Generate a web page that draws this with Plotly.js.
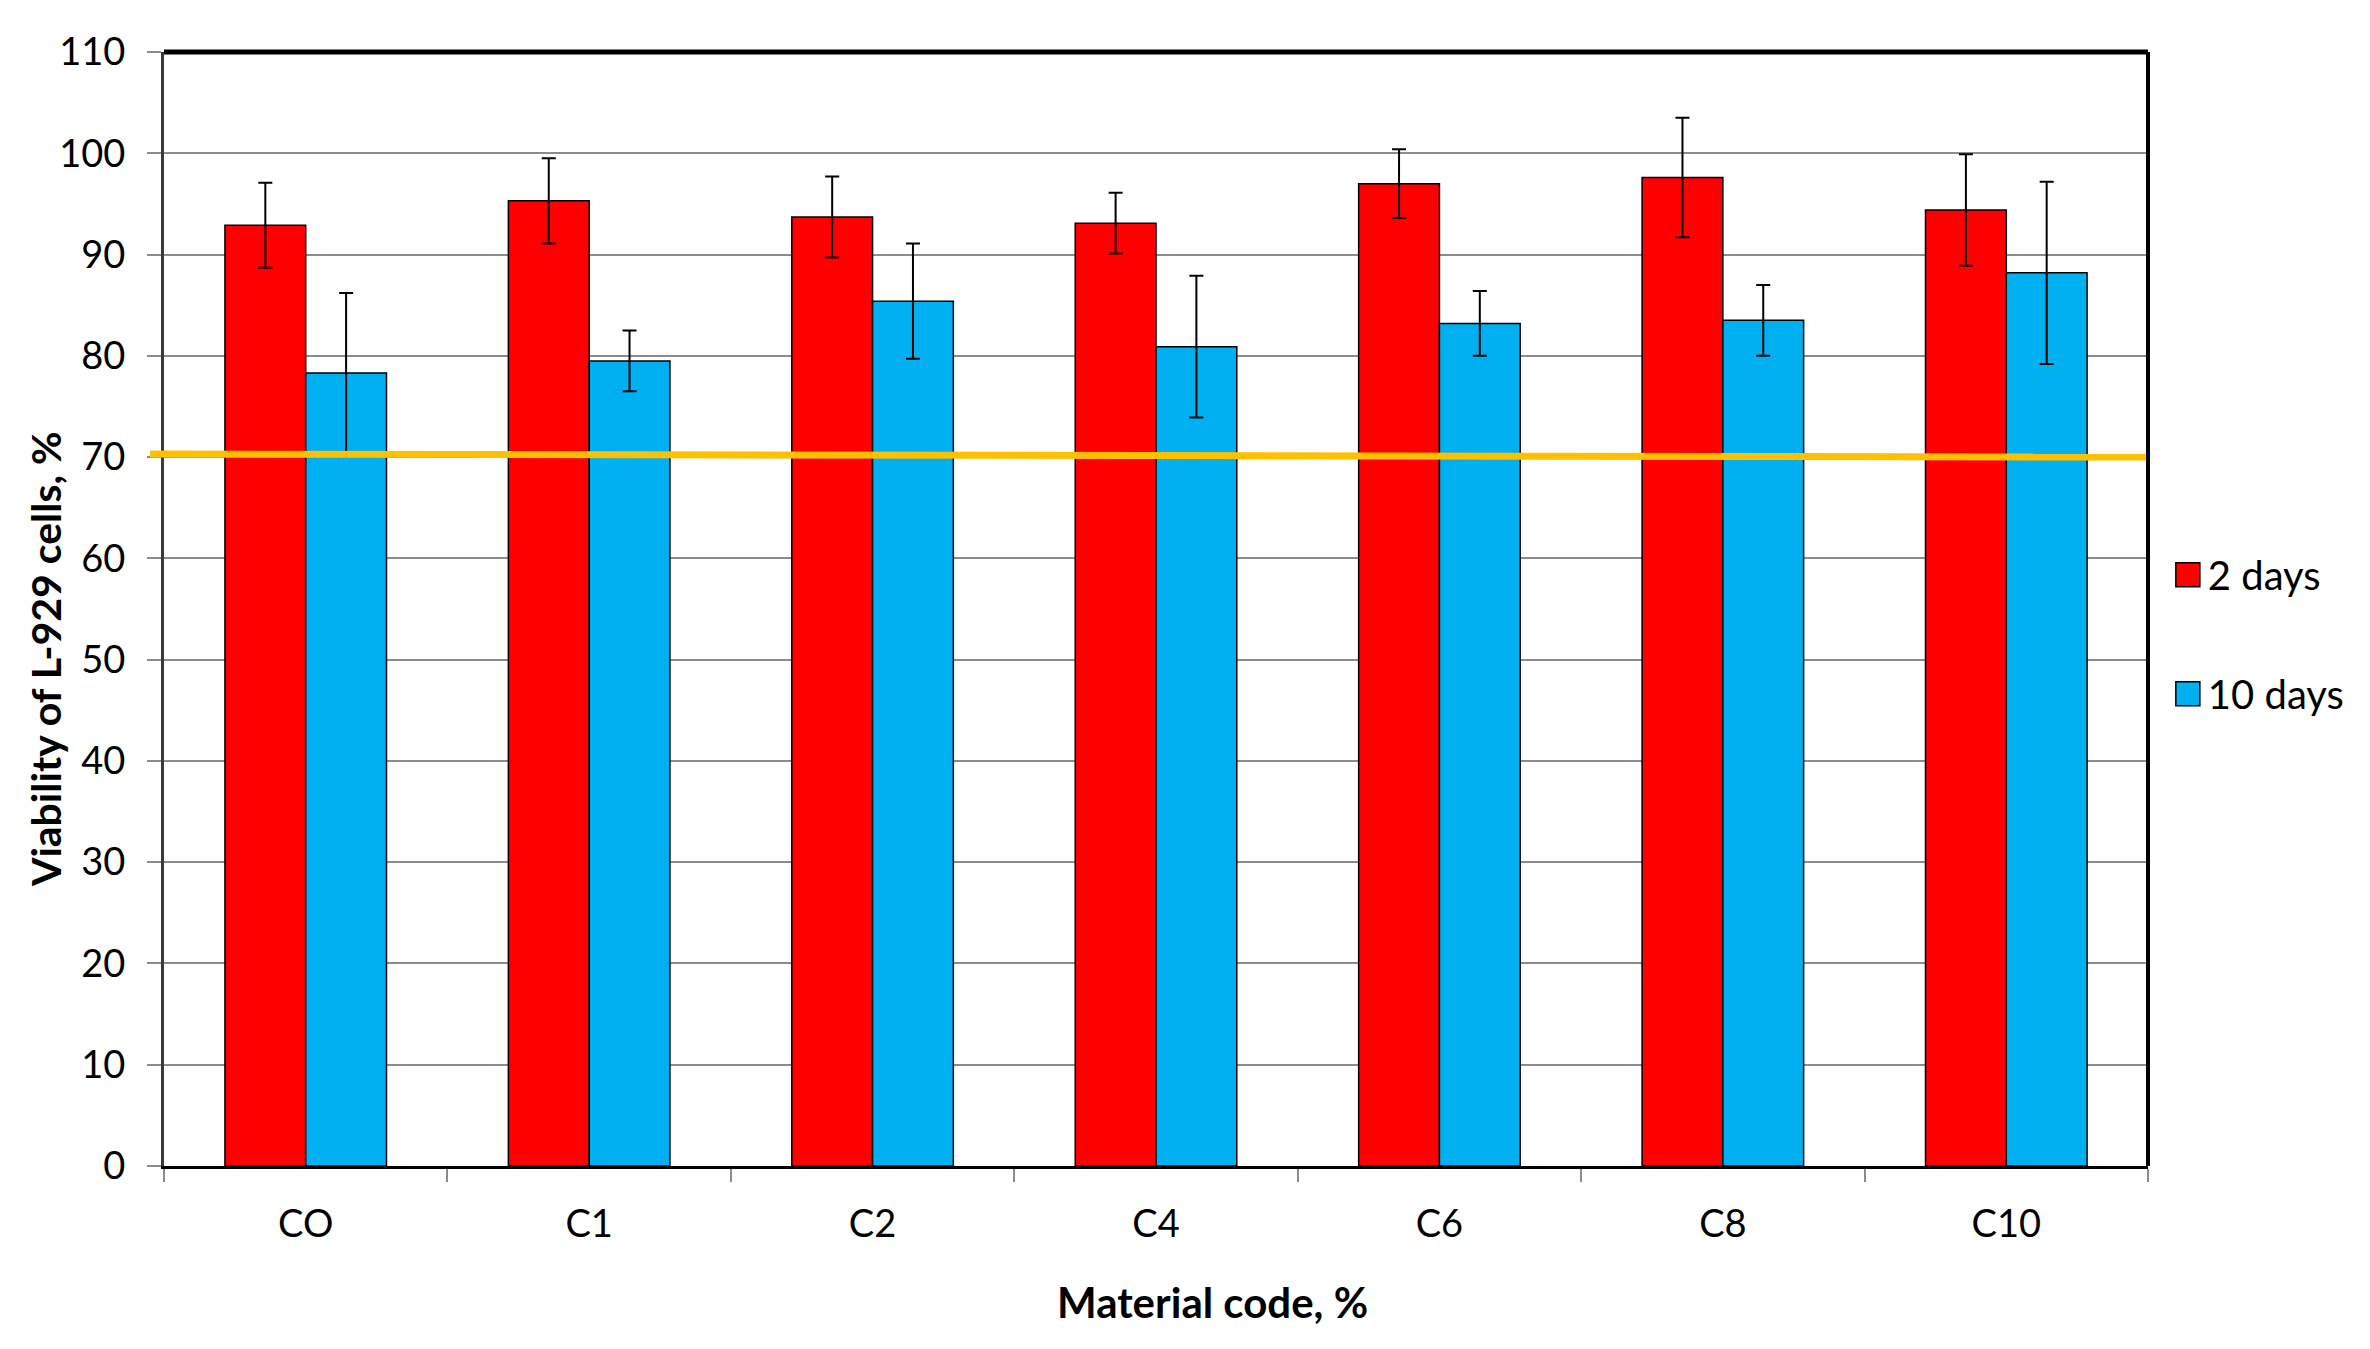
<!DOCTYPE html>
<html>
<head>
<meta charset="utf-8">
<script src="https://cdn.plot.ly/plotly-3.0.1.min.js"></script>
<style>
html,body{margin:0;padding:0;background:#fff;}
#chart{width:2370px;height:1349px;}
</style>
</head>
<body>
<div id="chart"></div>
<script>
const categories = ['CO', 'C1', 'C2', 'C4', 'C6', 'C8', 'C10'];
const days2 = [92.9, 95.3, 93.7, 93.1, 97.0, 97.6, 94.4];
const days2Err = [4.2, 4.2, 4.0, 3.0, 3.4, 5.9, 5.5];
const days10 = [78.3, 79.5, 85.4, 80.9, 83.2, 83.5, 88.2];
const days10Err = [7.9, 3.0, 5.7, 7.0, 3.2, 3.5, 9.0];
const threshold = [70.3, 70.0];
const seriesNames = ['2 days', '10 days'];
const yTickVals = [0, 10, 20, 30, 40, 50, 60, 70, 80, 90, 100, 110];
const xTitle = 'Material code, %';
const yTitle = 'Viability of L-929 cells, %';

const FONT = 'Lato, "Open Sans", sans-serif';

const traces = [
  {
    type: 'bar', name: seriesNames[0], x: categories, y: days2, legendgroup: 'a',
    marker: {color: '#FF0000', line: {color: '#000', width: 1.5}},
    error_y: {type: 'data', array: days2Err, visible: true, color: '#000', thickness: 2, width: 7}
  },
  {
    type: 'bar', name: seriesNames[1], x: categories, y: days10, legendgroup: 'b',
    marker: {color: '#00B0F0', line: {color: '#000', width: 1.5}},
    error_y: {type: 'data', array: days10Err, visible: true, color: '#000', thickness: 2, width: 7}
  }
];

const layout = {
  width: 2370, height: 1349,
  paper_bgcolor: '#fff', plot_bgcolor: '#fff',
  margin: {l: 164, r: 222, t: 52, b: 183, pad: 0},
  font: {family: FONT, size: 38, color: '#000'},
  barmode: 'group', bargap: 0.43, bargroupgap: 0,
  showlegend: true,
  legend: {
    x: 1.010, xanchor: 'left', y: 0.560, yanchor: 'top',
    font: {family: FONT, size: 40, color: '#000'},
    tracegroupgap: 64, bgcolor: 'rgba(0,0,0,0)', borderwidth: 0
  },
  xaxis: {
    type: 'category', range: [-0.5, 6.5], tickson: 'boundaries',
    ticks: 'outside', ticklen: 13, tickwidth: 2, tickcolor: '#8c8c8c',
    showline: true, linecolor: '#000', linewidth: 3,
    showgrid: false, zeroline: false,
    tickfont: {family: FONT, size: 38, color: '#000'},
    ticklabelstandoff: 22, fixedrange: true
  },
  yaxis: {
    range: [0, 110], tickvals: yTickVals,
    ticks: 'outside', ticklen: 14, tickwidth: 2, tickcolor: '#8c8c8c',
    showline: true, linecolor: '#3a3a3a', linewidth: 3,
    showgrid: true, gridcolor: '#8c8c8c', gridwidth: 2,
    zeroline: false,
    tickfont: {family: FONT, size: 38, color: '#000'},
    ticklabelstandoff: 14, fixedrange: true
  },
  shapes: [
    {type: 'line', xref: 'paper', yref: 'y', x0: -0.007, x1: 1, y0: threshold[0], y1: threshold[1],
     line: {color: '#FFC000', width: 7}, layer: 'above'},
    {type: 'line', xref: 'paper', yref: 'paper', x0: 0, x1: 1, y0: 1, y1: 1,
     line: {color: '#000', width: 5}, layer: 'above'},
    {type: 'line', xref: 'paper', yref: 'paper', x0: 1, x1: 1, y0: 0, y1: 1,
     line: {color: '#000', width: 4}, layer: 'above'}
  ],
  annotations: [
    {text: '<b>' + xTitle + '</b>', xref: 'paper', yref: 'paper', x: 0.5287, y: -0.122,
     xanchor: 'center', yanchor: 'middle', showarrow: false,
     font: {family: FONT, size: 42, color: '#000'}},
    {text: '<b>' + yTitle + '</b>', xref: 'paper', yref: 'paper', x: -0.060, y: 0.455,
     xanchor: 'center', yanchor: 'middle', showarrow: false, textangle: -90,
     font: {family: FONT, size: 41, color: '#000'}}
  ]
};

function enlargeLegendSymbols() {
  document.querySelectorAll('.legend .legendpoints path').forEach(function (p) {
    p.setAttribute('d', 'M12,12H-12V-12H12Z');
  });
}

Plotly.newPlot('chart', traces, layout, {staticPlot: true, displayModeBar: false}).then(function () {
  enlargeLegendSymbols();
  setTimeout(enlargeLegendSymbols, 50);
});
</script>
</body>
</html>
